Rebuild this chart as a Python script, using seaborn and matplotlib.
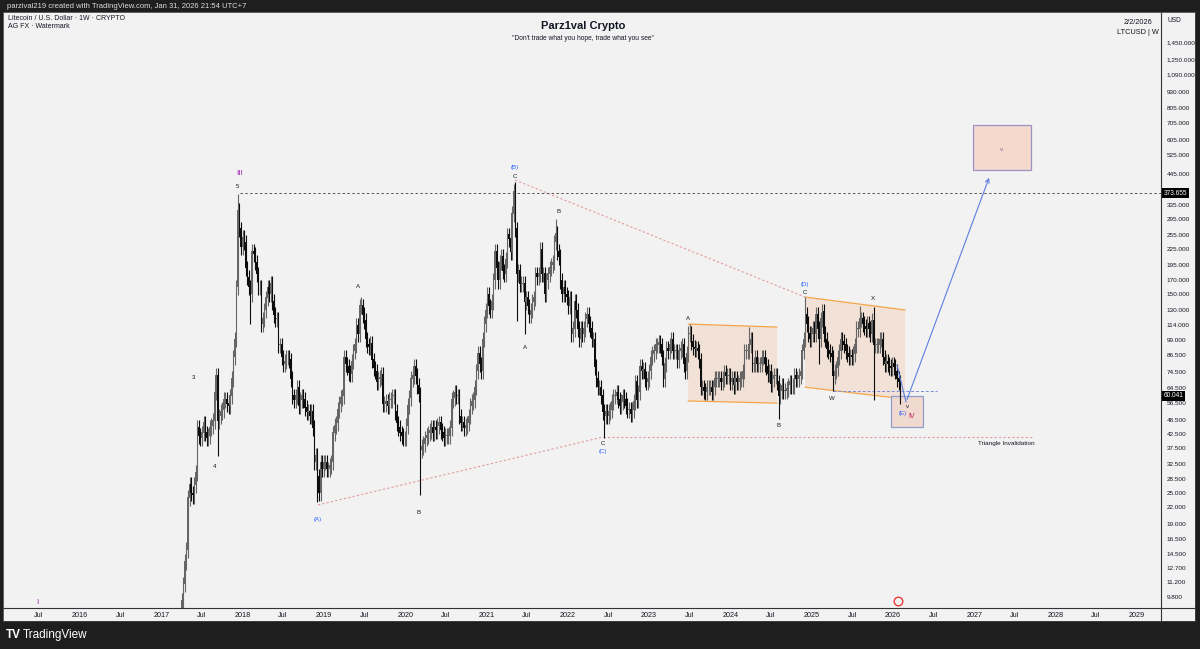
import matplotlib
matplotlib.use("Agg")
import numpy as np
import pandas as pd
import matplotlib.pyplot as plt
import matplotlib.transforms as mtransforms
from matplotlib.patches import Rectangle, Polygon
import seaborn as sns

# weekly closes of LTCUSD (weeks start on Monday)
ltc_2017 = [4.2, 3.8, 3.8, 3.9, 4.0, 3.8, 3.8, 3.8, 3.9, 3.9, 4.0, 4.3, 7.0,
            9.5, 11.0, 13.5, 15.0, 24.0, 27.0, 25.0, 24.5, 27.0, 30.0, 45.0, 42.0, 41.0,
            43.0, 47.0, 43.0, 41.0, 42.0, 45.0, 46.0, 48.0, 62.0, 72.0, 48.0, 50.0, 52.0,
            53.0, 58.0, 58.0, 56.0, 55.0, 60.0, 70.0, 85.0, 100.0, 160.0, 320.0, 270.0, 230.0]
ltc_2018 = [250, 240, 190, 175, 160, 150, 220, 215, 200, 180, 160, 160, 115,
            120, 130, 145, 160, 150, 165, 140, 125, 120, 120, 95, 95, 85,
            80, 82, 85, 85, 83, 70, 60, 58, 60, 65, 55, 58, 60,
            58, 54, 52, 52, 50, 52, 45, 33, 35, 29, 25, 33, 31, 33]
ltc_2019 = [33, 31, 31, 32, 33, 43, 46, 47, 53, 56, 59, 60,
            85, 80, 78, 74, 73, 82, 90, 95, 113, 105, 135, 135, 125,
            118, 100, 95, 93, 96, 83, 77, 75, 68, 70, 71, 73, 56, 56,
            57, 55, 58, 58, 60, 60, 52, 47, 45, 43, 42, 41, 41]
ltc_2020 = [46, 55, 59, 70, 72, 78, 72, 66, 61, 37, 38, 39, 41,
            42, 43, 44, 45, 43, 45, 44, 46, 47, 44, 43, 41, 42,
            42, 42, 45, 58, 59, 62, 60, 60, 50, 47, 47, 45, 46,
            47, 50, 55, 57, 58, 65, 75, 88, 80, 75, 100, 115, 130]
ltc_2021 = [150, 135, 130, 140, 170, 220, 190, 170, 200, 210, 185, 180, 205,
            256, 248, 220, 310, 380, 270, 180, 185, 165, 165, 165, 140, 145,
            135, 125, 130, 140, 145, 180, 175, 180, 225, 180, 180, 150, 170,
            180, 190, 195, 200, 240, 260, 220, 210, 170, 150, 160, 150, 146]
ltc_2022 = [135, 145, 105, 110, 140, 130, 110, 100, 110, 105, 110, 120, 125,
            115, 110, 100, 100, 78, 70, 65, 65, 60, 52, 50, 52, 50,
            52, 53, 57, 60, 60, 62, 58, 55, 57, 60, 58, 55, 53,
            53, 51, 53, 57, 68, 58, 62, 78, 75, 76, 70, 68, 70]
ltc_2023 = [75, 85, 88, 90, 95, 95, 97, 95, 85, 70, 80, 92, 90,
            95, 100, 90, 90, 90, 83, 90, 92, 95, 80, 75, 88, 105,
            105, 98, 93, 92, 92, 90, 83, 65, 65, 63, 62, 65, 65,
            65, 62, 65, 70, 70, 70, 70, 68, 70, 74, 72, 72, 72]
ltc_2024 = [68, 70, 66, 70, 68, 68, 70, 70, 75, 90, 90, 90, 95,
            100, 80, 80, 85, 80, 80, 80, 85, 85, 80, 78, 73, 75,
            67, 70, 72, 72, 68, 60, 63, 66, 63, 63, 64, 66, 68, 66,
            66, 72, 70, 70, 72, 75, 90, 100, 125, 115, 105, 100, 105]
ltc_2025 = [110, 105, 125, 110, 100, 120, 128, 105, 100, 92, 90, 88, 85,
            72, 75, 77, 85, 90, 100, 98, 95, 90, 88, 85, 86, 85,
            88, 95, 110, 110, 120, 120, 115, 112, 110, 115, 110, 105, 118,
            95, 95, 95, 95, 100, 100, 85, 80, 82, 80, 78, 77, 80]
ltc_2026 = [78, 75, 70, 68, 60.041]

# long wicks visible on the chart
spike_dates = ["2017-09-11", "2017-12-11", "2018-02-05", "2018-12-03", "2019-06-17",
               "2020-03-09", "2021-05-10", "2021-05-17", "2021-06-21", "2021-11-08",
               "2022-06-13", "2023-07-03", "2024-03-25", "2024-08-05", "2024-12-02",
               "2025-02-03", "2025-04-07", "2025-08-04", "2025-10-06"]
spike_highs = [None, 372, None, None, 146, None, 413, None, None, 295,
               None, 115, 112, None, 147, None, None, 135, 134]
spike_lows = [35, None, 115, 23, None, 24.6, None, 118, 105, None,
              41, None, None, 49, None, 80, 63, None, 58]

price_ticks = [1450, 1250, 1090, 930, 805, 705, 605, 525, 445, 335, 295, 255, 225,
               195, 170, 150, 130, 114, 99, 86.5, 74.5, 64.5, 56.5, 48.5, 42.5, 37.5,
               32.5, 28.5, 25, 22, 19, 16.5, 14.5, 12.7, 11.2, 9.8]
year_ticks = list(range(2016, 2030))

# wave labels (decimal year, price)
wave_text = ["I", "III", "5", "3", "4", "A", "(A)", "B", "(B)", "C", "B", "A", "C", "(C)",
             "A", "B", "(D)", "C", "W", "X", "(E)", "v", "IV"]
wave_x = [2015.48, 2017.96, 2017.94, 2017.40, 2017.66, 2019.42, 2018.92, 2020.17, 2021.35,
          2021.35, 2021.88, 2021.47, 2022.43, 2022.43, 2023.48, 2024.59, 2024.91, 2024.92,
          2025.25, 2025.75, 2026.12, 2026.18, 2026.23]
wave_y = [9.3, 447, 398, 70.6, 31.9, 161.6, 19.8, 21.1, 472, 435.6, 315, 93.3, 39.3, 36.5,
          121, 46.2, 164.6, 153, 58.9, 145, 51.5, 54.5, 50.1]
wave_kind = ["p", "p", "k", "k", "k", "k", "b", "k", "b", "k", "k", "k", "k", "b",
             "k", "k", "b", "k", "k", "k", "b", "k", "m"]

# --- build candles
closes = ltc_2017 + ltc_2018 + ltc_2019 + ltc_2020 + ltc_2021 + ltc_2022 + ltc_2023 + ltc_2024 + ltc_2025 + ltc_2026
dates = pd.date_range("2017-01-02", periods=len(closes), freq="W-MON")
df = pd.DataFrame({"date": dates, "close": np.array(closes, dtype=float)})
df["open"] = df["close"].shift(1).fillna(df["close"])
df["high"] = df[["open", "close"]].max(axis=1) * 1.07
df["low"] = df[["open", "close"]].min(axis=1) * 0.93
df = df.set_index("date")
for d, h, l in zip(spike_dates, spike_highs, spike_lows):
    if h is not None:
        df.loc[d, "high"] = h
    if l is not None:
        df.loc[d, "low"] = l
df = df.reset_index()
df["x"] = df["date"].dt.year + (df["date"].dt.dayofyear - 1) / 365.25
df["up"] = df["close"] >= df["open"]

sns.set_theme(style="white")
plt.rcParams["font.family"] = ["Liberation Sans", "DejaVu Sans"]

BG = "#f2f2f2"
fig = plt.figure(figsize=(12, 6.49), dpi=100, facecolor="#1e1e1e")
panel = fig.add_axes([3 / 1200, 1 - 621 / 649, 1192 / 1200, 609 / 649], zorder=-5)
panel.set_facecolor(BG)
panel.set_xticks([])
panel.set_yticks([])
panel.set_xlim(3, 1195)
panel.set_ylim(621, 12)
for s in panel.spines.values():
    s.set_color("#444444")
    s.set_linewidth(0.6)
panel.plot([1161, 1161], [12, 621], color="#333333", lw=0.8)
panel.plot([3, 1195], [608, 608], color="#333333", lw=0.8)

ax = fig.add_axes([4 / 1200, 1 - 608 / 649, 1157 / 1200, 596 / 649], zorder=1)
ax.set_facecolor("none")
ax.set_yscale("log")
ax.set_xlim(2015.065, 2029.296)
ax.set_ylim(8.89, 1909)

cols = np.where(df["up"], "#666666", "#0d0d0d")
ax.vlines(df["x"], df["low"], df["high"], colors=cols, lw=0.8, zorder=3)
body_lo = df[["open", "close"]].min(axis=1)
body_hi = df[["open", "close"]].max(axis=1) * 1.006
ax.bar(df["x"], body_hi - body_lo, bottom=body_lo, width=0.016, color=cols, lw=0, zorder=3)

# channels
ch1 = [(2023.479, 114.8), (2024.573, 111.7), (2024.573, 56.3), (2023.479, 57.4)]
ch2 = [(2024.918, 146.4), (2026.148, 130.3), (2026.148, 58.4), (2024.918, 65.0)]
for ch in (ch1, ch2):
    ax.add_patch(Polygon(ch, closed=True, fc="#f3dccd", ec="none", alpha=0.75, zorder=1))
    ax.plot([ch[0][0], ch[1][0]], [ch[0][1], ch[1][1]], color="#f5a54a", lw=0.9, zorder=2)
    ax.plot([ch[3][0], ch[2][0]], [ch[3][1], ch[2][1]], color="#f5a54a", lw=0.9, zorder=2)

# target boxes
ax.add_patch(Rectangle((2026.984, 459.7), 0.713, 689 - 459.7, fc="#f4d9cc", ec="#9a94c6", lw=0.9, zorder=2))
ax.add_patch(Rectangle((2025.975, 45.4), 0.394, 60.0 - 45.4, fc="#f0d9cf", ec="#8f9ccc", lw=0.9, zorder=2))
ax.text(2027.33, 555, "v", color="#8e5f8e", fontsize=4.5, ha="center", va="center")

# triangle lines
pink = "#e39a9a"
ax.plot([2018.927, 2022.433], [22.5, 41.5], color=pink, lw=0.8, ls=(0, (2, 2)), zorder=2)
ax.plot([2022.433, 2027.71], [41.5, 41.5], color=pink, lw=0.8, ls=(0, (2, 2)), zorder=2)
ax.plot([2021.35, 2024.918], [420, 146.4], color=pink, lw=0.8, ls=(0, (2, 2)), zorder=2)
ax.text(2027.045, 39.3, "Triangle Invalidation", fontsize=4.6, color="#131722", va="center")

# wave 5 level
ax.plot([2017.968, 2029.296], [373.655, 373.655], color="#555555", lw=0.7, ls=(0, (2.5, 2.5)), zorder=2)
# W level
ax.plot([2025.262, 2026.541], [62.8, 62.8], color="#7b8fd6", lw=0.7, ls=(0, (3, 2)), zorder=2)

# projected path
blue = "#5c7fe0"
proj_x = [2026.049, 2026.16]
proj_y = [79.3, 56.8]
sns.lineplot(x=proj_x, y=proj_y, ax=ax, sort=False, color=blue, lw=0.8, zorder=4)
ax.annotate("", xy=(2027.193, 439), xytext=(2026.16, 56.8),
            arrowprops=dict(arrowstyle="->", color=blue, lw=0.8, mutation_scale=7), zorder=4)

colmap = {"p": "#9c27b0", "k": "#131722", "b": "#2962ff", "m": "#c2185b"}
sizemap = {"p": 6, "k": 4.4, "b": 4.4, "m": 5}
for t, x, y, k in zip(wave_text, wave_x, wave_y, wave_kind):
    ax.text(x, y, t, color=colmap[k], fontsize=sizemap[k], ha="center", va="center", zorder=5)

# economic event flag
ax.scatter([2026.06], [9.5], s=38, marker="o", fc="#f5f5f5", ec="#e53935", lw=1.0, zorder=6, clip_on=False)

# axes styling
ax.yaxis.tick_right()
ax.set_yticks(price_ticks)
ax.set_yticklabels([f"{v:,.3f}" for v in price_ticks])
ax.yaxis.set_minor_locator(matplotlib.ticker.NullLocator())
xt = sorted(year_ticks + [y - 0.504 for y in year_ticks])
ax.set_xticks(xt)
ax.set_xticklabels([str(int(round(v))) if abs(v - round(v)) < 0.01 else "Jul" for v in xt])
ax.tick_params(axis="y", length=0, labelsize=4.6, labelcolor="#131722", pad=4)
ax.tick_params(axis="x", length=0, labelsize=5.2, labelcolor="#131722", pad=3)
for s in ax.spines.values():
    s.set_visible(False)
ax.grid(False)
ax.set_xlabel("")
ax.set_ylabel("")

trans = mtransforms.blended_transform_factory(ax.transAxes, ax.transData)
for v, lbl in ((373.655, "373.655"), (60.041, "60.041")):
    ax.text(1.002, v, lbl, transform=trans, fontsize=4.7, color="white", va="center", ha="left",
            bbox=dict(fc="#000000", ec="none", pad=1.2), zorder=7)

# texts in figure pixels
def px(x, y):
    return x / 1200, 1 - y / 649

fig.text(*px(7, 6), "parzival219 created with TradingView.com, Jan 31, 2026 21:54 UTC+7",
         color="#dddddd", fontsize=5.5, va="center")
fig.text(*px(8, 19), "Litecoin / U.S. Dollar · 1W · CRYPTO", color="#131722", fontsize=5, va="center")
fig.text(*px(8, 27), "AG FX · Watermark", color="#131722", fontsize=5, va="center")
fig.text(*px(583, 26), "Parz1val Crypto", color="#131722", fontsize=8, fontweight="bold", ha="center", va="center")
fig.text(*px(583, 39), "\"Don't trade what you hope, trade what you see\"", color="#131722", fontsize=4.8,
         ha="center", va="center")
fig.text(*px(1138, 22), "2/2/2026", color="#131722", fontsize=5.3, ha="center", va="center")
fig.text(*px(1138, 33), "LTCUSD | W", color="#131722", fontsize=5.3, ha="center", va="center")
fig.text(*px(1168, 20), "USD", color="#131722", fontsize=4.8, ha="left", va="center")
fig.text(*px(6, 635), "TV", color="white", fontsize=8.5, fontweight="bold", va="center")
fig.text(*px(23, 635), "TradingView", color="white", fontsize=8.5, va="center")

fig.savefig("out.png", dpi=100, facecolor=fig.get_facecolor())
